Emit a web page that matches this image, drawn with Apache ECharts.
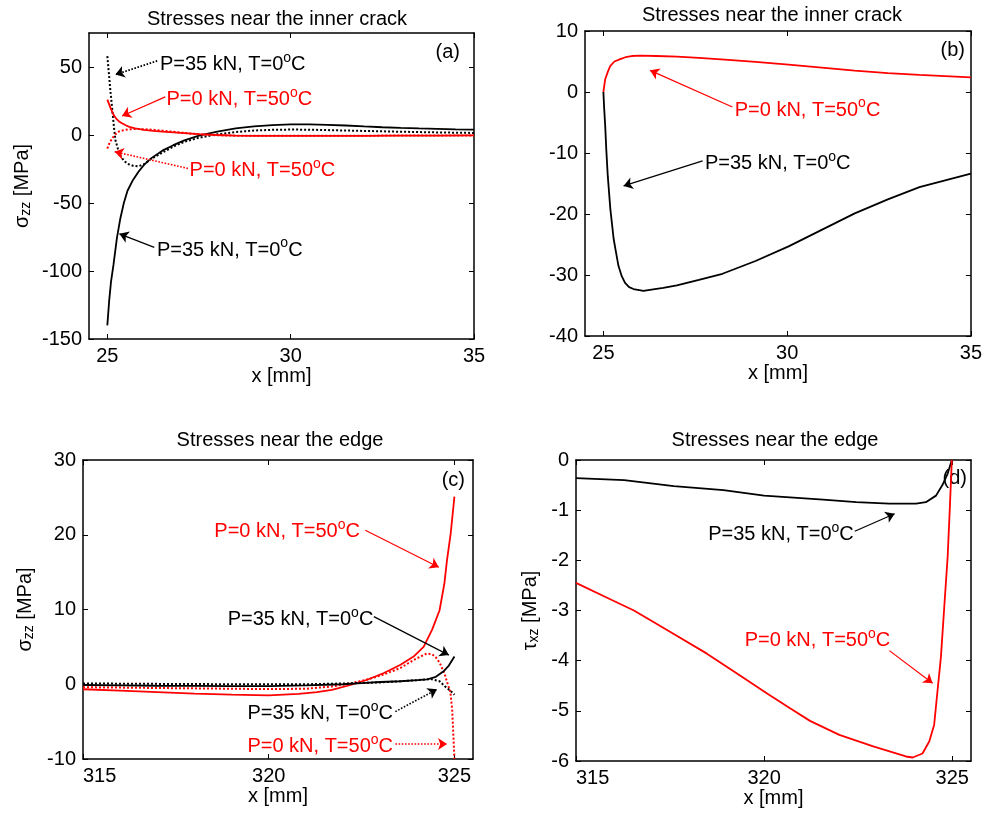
<!DOCTYPE html>
<html>
<head>
<meta charset="utf-8">
<script src="https://cdn.jsdelivr.net/npm/echarts@6/dist/echarts.min.js"></script>
<style>
  html, body { margin: 0; padding: 0; background: #fff; }
  #chart { width: 985px; height: 813px; }
</style>
</head>
<body>
<div id="chart"></div>
<script>
// ---- (a) sigma_zz near the inner crack, x in mm, stress in MPa ----
const crackLoadX = [25.0, 25.05, 25.1, 25.17, 25.26, 25.35, 25.45, 25.55, 25.7, 25.85, 26.0, 26.2, 26.5, 26.8, 27.1, 27.5, 28.0, 28.5, 29.0, 29.5, 30.0, 30.5, 31.0, 31.5, 32.0, 32.5, 33.0, 33.5, 34.0, 34.5, 35.0];
const crackLoadY = [-140, -122, -108, -95, -76, -62, -50, -41, -33, -27, -22, -17, -11.5, -7.5, -4, -0.5, 2.5, 4.8, 6.3, 7.3, 7.8, 7.8, 7.5, 7.0, 6.3, 5.7, 5.2, 4.8, 4.5, 4.2, 4.0];
const crackLoadDotX = [25.0, 25.04, 25.08, 25.13, 25.18, 25.22, 25.28, 25.35, 25.45, 25.58, 25.72, 25.85, 26.0, 26.2, 26.5, 26.8, 27.1, 27.5, 28.0, 28.5, 29.0, 29.5, 30.0, 30.5, 31.0, 32.0, 33.0, 34.0, 35.0];
const crackLoadDotY = [58, 46, 33.5, 20, 6, -3.7, -9.5, -14.8, -19, -21.5, -22.8, -23, -21.5, -17.5, -13, -8.5, -5, -2, 0.5, 2.2, 3.3, 3.8, 4.0, 3.9, 3.6, 3.0, 2.4, 1.9, 1.5];
const crackHeatX = [25.0, 25.05, 25.1, 25.17, 25.25, 25.32, 25.4, 25.5, 25.6, 25.76, 26.0, 26.25, 26.5, 27.0, 27.5, 28.0, 28.5, 29.0, 30.0, 31.0, 32.0, 33.0, 34.0, 35.0];
const crackHeatY = [26, 22.5, 19, 14.8, 11.8, 10, 8.6, 7.2, 6, 4.9, 3.7, 3.0, 2.5, 1.6, 0.6, 0, -0.4, -0.6, -0.7, -0.7, -0.6, -0.5, -0.4, -0.3];
const crackHeatDotX = [25.0, 25.05, 25.13, 25.22, 25.31, 25.45, 25.58, 25.8, 26.04, 26.3, 26.5, 27.0, 27.4, 28.0, 28.5, 29.0, 30.0, 31.0, 32.0, 33.0, 34.0, 35.0];
const crackHeatDotY = [-10, -6.5, -2.5, 0.5, 2.5, 3.6, 4.2, 4.4, 4.2, 3.7, 3.2, 1.8, 0.7, -0.2, -0.5, -0.6, -0.6, -0.5, -0.5, -0.4, -0.4, -0.3];

// ---- (b) second stress component near the inner crack ----
const crackBHeatX = [25.0, 25.05, 25.12, 25.19, 25.3, 25.46, 25.6, 25.77, 26.0, 26.44, 27.0, 27.6, 28.3, 29.14, 30.04, 30.94, 31.84, 32.74, 33.6, 34.3, 35.0];
const crackBHeatY = [0, 2.1, 3.3, 4.3, 5.0, 5.4, 5.7, 5.9, 5.95, 5.9, 5.8, 5.6, 5.3, 4.95, 4.5, 4.0, 3.5, 3.1, 2.8, 2.6, 2.4];
const crackBLoadX = [25.0, 25.02, 25.05, 25.08, 25.12, 25.19, 25.28, 25.35, 25.41, 25.5, 25.59, 25.7, 25.82, 26.09, 26.4, 26.63, 27.0, 27.6, 28.24, 29.14, 30.04, 30.94, 31.84, 32.74, 33.6, 34.3, 35.0];
const crackBLoadY = [0, -2.5, -5.6, -9.5, -13.8, -19.2, -24.1, -26.5, -28.5, -30.2, -31.3, -32.0, -32.3, -32.6, -32.3, -32.1, -31.7, -30.8, -29.8, -27.7, -25.3, -22.6, -19.9, -17.6, -15.6, -14.5, -13.4];

// ---- (c) sigma_zz near the edge ----
const edgeHeatX = [315.0, 316.0, 317.0, 318.0, 319.0, 320.0, 320.8, 321.3, 321.7, 322.2, 322.65, 323.1, 323.55, 323.9, 324.17, 324.4, 324.6, 324.73, 324.8, 324.9, 325.0];
const edgeHeatY = [-0.67, -0.85, -1.05, -1.25, -1.4, -1.5, -1.3, -1.05, -0.76, -0.1, 0.6, 1.5, 2.6, 3.7, 5.0, 7.3, 9.9, 13.5, 16.6, 20.2, 25.1];
const edgeHeatDotX = [315, 316, 317, 318, 319, 320, 321, 321.7, 322.2, 322.7, 323.1, 323.55, 324.0, 324.25, 324.4, 324.5, 324.6, 324.7, 324.75, 324.82, 324.89, 324.94, 325.0];
const edgeHeatDotY = [-0.4, -0.45, -0.5, -0.55, -0.6, -0.65, -0.6, -0.3, 0.1, 0.7, 1.3, 2.2, 3.5, 4.1, 4.0, 3.6, 2.9, 1.8, 1.15, 0, -1.0, -3.4, -10];
const edgeLoadX = [315, 316, 317, 318, 319, 320, 321, 322, 322.5, 323, 323.55, 324.0, 324.27, 324.5, 324.7, 324.85, 325.0];
const edgeLoadY = [-0.1, -0.15, -0.2, -0.22, -0.25, -0.25, -0.15, 0, 0.15, 0.3, 0.4, 0.55, 0.66, 1.0, 1.7, 2.5, 3.7];
const edgeLoadDotX = [315, 316, 317, 318, 319, 320, 321, 322, 323, 323.55, 324.0, 324.35, 324.6, 324.75, 324.9, 325.0];
const edgeLoadDotY = [0.1, 0.08, 0.05, 0.03, 0, 0, 0, 0.1, 0.25, 0.4, 0.55, 0.7, 0.4, -0.3, -0.9, -1.4];

// ---- (d) tau_xz near the edge ----
const shearLoadX = [315.0, 316.28, 317.6, 318.92, 320.0, 321.57, 322.45, 323.33, 324.04, 324.3, 324.57, 324.74, 324.88, 324.99];
const shearLoadY = [-0.36, -0.4, -0.52, -0.6, -0.71, -0.79, -0.84, -0.87, -0.87, -0.84, -0.71, -0.5, -0.27, 0.0];
const shearHeatX = [315.0, 315.84, 316.54, 317.51, 318.48, 319.37, 320.07, 320.69, 321.22, 322.0, 322.9, 323.77, 323.95, 324.21, 324.39, 324.52, 324.61, 324.7, 324.79, 324.88, 324.94, 324.99];
const shearHeatY = [-2.45, -2.75, -3.0, -3.43, -3.86, -4.3, -4.65, -4.95, -5.2, -5.48, -5.71, -5.91, -5.93, -5.85, -5.61, -5.28, -4.6, -3.93, -2.92, -1.92, -0.91, 0.0];

// ---- tick values ----
const crackTicksX = [25, 30, 35];
const edgeTicksX = [315, 320, 325];
const ticksA = [-150, -100, -50, 0, 50];
const ticksB = [-40, -30, -20, -10, 0, 10];
const ticksC = [-10, 0, 10, 20, 30];
const ticksD = [-6, -5, -4, -3, -2, -1, 0];

const LOAD = 'P=35 kN, T=0{sup|o}C';
const HEAT = 'P=0 kN, T=50{sup|o}C';

const FONT = 'Liberation Sans';
const FS = 20;
const RED = '#ff0000';
const BLACK = '#000000';

const zip = (xs, ys) => xs.map((x, i) => [x, ys[i]]);

const grids = [
  { left: 89, top: 33, width: 385, height: 306 },
  { left: 585, top: 31, width: 390, height: 305 },
  { left: 83, top: 460, width: 390, height: 299 },
  { left: 576, top: 460, width: 395, height: 301 }
];

const tickStyle = { inside: true, length: 5, lineStyle: { color: BLACK, width: 1 } };
const lineAxis = { onZero: false, lineStyle: { color: BLACK, width: 1.5 } };
const labelFont = { color: BLACK, fontSize: FS, fontFamily: FONT };

const xAxis = [];
const yAxis = [];

function addAxes(gi, xr, xt, yr, yt, yName, yGap, alignMin) {
  xAxis.push({
    type: 'value', gridIndex: gi, min: xr[0], max: xr[1], position: 'bottom',
    axisLine: lineAxis,
    axisTick: Object.assign({ customValues: xt }, tickStyle),
    axisLabel: Object.assign({ customValues: xt, margin: 7, alignMinLabel: alignMin }, labelFont),
    splitLine: { show: false },
    name: 'x [mm]', nameLocation: 'middle', nameGap: 27,
    nameTextStyle: { color: BLACK, fontSize: FS, fontFamily: FONT }
  });
  xAxis.push({
    type: 'value', gridIndex: gi, min: xr[0], max: xr[1], position: 'top',
    axisLine: lineAxis,
    axisTick: Object.assign({ customValues: xt }, tickStyle),
    axisLabel: { show: false }, splitLine: { show: false }
  });
  const left = {
    type: 'value', gridIndex: gi, min: yr[0], max: yr[1], position: 'left',
    axisLine: lineAxis,
    axisTick: Object.assign({ customValues: yt }, tickStyle),
    axisLabel: Object.assign({ customValues: yt, margin: 7 }, labelFont),
    splitLine: { show: false }
  };
  if (yName) {
    Object.assign(left, {
      name: yName, nameLocation: 'middle', nameGap: yGap, nameRotate: 90,
      nameTextStyle: {
        color: BLACK, fontSize: FS, fontFamily: FONT,
        rich: {
          g: { fontSize: FS, fontFamily: FONT, color: BLACK },
          s: { fontSize: 14, fontFamily: FONT, color: BLACK, verticalAlign: 'bottom', padding: [8, 0, 0, 0] }
        }
      }
    });
  }
  yAxis.push(left);
  yAxis.push({
    type: 'value', gridIndex: gi, min: yr[0], max: yr[1], position: 'right',
    axisLine: lineAxis,
    axisTick: Object.assign({ customValues: yt }, tickStyle),
    axisLabel: { show: false }, splitLine: { show: false }
  });
}

addAxes(0, [24.5, 35], crackTicksX, [-150, 75], ticksA, '{g|σ}{s|zz} [MPa]', 56, 'center');
addAxes(1, [24.5, 35], crackTicksX, [-40, 10], ticksB, null, 0, 'center');
addAxes(2, [315, 325.5], edgeTicksX, [-10, 30], ticksC, '{g|σ}{s|zz} [MPa]', 47, 'left');
addAxes(3, [315, 325.5], edgeTicksX, [-6, 0], ticksD, '{g|τ}{s|xz} [MPa]', 35, 'left');

// arrow from the text to the curve
function arrows(color, dotted, pairs) {
  return {
    silent: true, animation: false,
    symbol: ['none', 'arrow'], symbolSize: 9,
    lineStyle: { color: color, width: dotted ? 1.6 : 1.2, type: dotted ? 'dotted' : 'solid' },
    label: { show: false },
    emphasis: { disabled: true },
    data: pairs.map(p => [{ coord: [p[0], p[1]] }, { coord: [p[2], p[3]] }])
  };
}

// text annotation anchored at a data point
function note(color, text, x, y, side) {
  return {
    silent: true, animation: false,
    symbol: 'circle', symbolSize: 1,
    itemStyle: { color: 'rgba(0,0,0,0)' },
    label: {
      show: true, position: side, distance: 0, formatter: text,
      color: color, fontSize: FS, fontFamily: FONT, lineHeight: 27,
      rich: { sup: { fontSize: 14, fontFamily: FONT, color: color, verticalAlign: 'top', lineHeight: 27 } }
    },
    emphasis: { disabled: true },
    data: [{ coord: [x, y] }]
  };
}

function curve(gi, xs, ys, color, dotted, extra) {
  return Object.assign({
    type: 'line', xAxisIndex: 2 * gi, yAxisIndex: 2 * gi,
    data: zip(xs, ys), showSymbol: false, symbol: 'none',
    lineStyle: { color: color, width: dotted ? 2 : 1.8, type: dotted ? 'dotted' : 'solid' },
    itemStyle: { color: color }, animation: false, silent: true, clip: true
  }, extra || {});
}

const series = [
  // (a)
  curve(0, crackLoadX, crackLoadY, BLACK, false, {
    markLine: arrows(BLACK, false, [[26.28, -82.6, 25.33, -72.7]]),
    markPoint: note(BLACK, LOAD, 26.34, -84.6, 'right')
  }),
  curve(0, crackLoadDotX, crackLoadDotY, BLACK, true, {
    markLine: arrows(BLACK, true, [[26.36, 54.5, 25.22, 44.4]]),
    markPoint: note(BLACK, LOAD, 26.42, 52, 'right')
  }),
  curve(0, crackHeatDotX, crackHeatDotY, RED, true, {
    markLine: arrows(RED, true, [[27.2, -24.6, 25.2, -12.3]]),
    markPoint: note(RED, HEAT, 27.23, -26.3, 'right')
  }),
  curve(0, crackHeatX, crackHeatY, RED, false, {
    markLine: arrows(RED, false, [[26.58, 28, 25.4, 14]]),
    markPoint: note(RED, HEAT, 26.6, 26, 'right')
  }),
  // (b)
  curve(1, crackBHeatX, crackBHeatY, RED, false, {
    markLine: arrows(RED, false, [[28.51, -2.46, 26.27, 3.55]]),
    markPoint: note(RED, HEAT, 28.56, -2.95, 'right')
  }),
  curve(1, crackBLoadX, crackBLoadY, BLACK, false, {
    markLine: arrows(BLACK, false, [[27.7, -11.3, 25.55, -15.4]]),
    markPoint: note(BLACK, LOAD, 27.75, -11.7, 'right')
  }),
  // (c)
  curve(2, edgeHeatX, edgeHeatY, RED, false, {
    markLine: arrows(RED, false, [[322.6, 20.6, 324.58, 15.65]]),
    markPoint: note(RED, HEAT, 322.47, 20.4, 'left')
  }),
  curve(2, edgeHeatDotX, edgeHeatDotY, RED, true, {
    markLine: arrows(RED, true, [[323.41, -8.0, 324.8, -8.0]]),
    markPoint: note(RED, HEAT, 323.36, -8.35, 'left')
  }),
  curve(2, edgeLoadX, edgeLoadY, BLACK, false, {
    markLine: arrows(BLACK, false, [[322.83, 9.05, 324.85, 3.9]]),
    markPoint: note(BLACK, LOAD, 322.83, 8.6, 'left')
  }),
  curve(2, edgeLoadDotX, edgeLoadDotY, BLACK, true, {
    markLine: arrows(BLACK, true, [[323.41, -3.66, 324.53, -0.67]]),
    markPoint: note(BLACK, LOAD, 323.36, -3.97, 'left')
  }),
  // (d)
  curve(3, shearLoadX, shearLoadY, BLACK, false, {
    markLine: arrows(BLACK, false, [[322.41, -1.42, 323.47, -1.07]]),
    markPoint: note(BLACK, LOAD, 318.5, -1.48, 'right')
  }),
  curve(3, shearHeatX, shearHeatY, RED, false, {
    markLine: arrows(RED, false, [[323.33, -3.8, 324.48, -4.45]]),
    markPoint: note(RED, HEAT, 319.47, -3.6, 'right')
  })
];

function text(str, x, y, align) {
  return {
    type: 'text', x: x, y: y, silent: true,
    style: { text: str, fill: BLACK, font: FS + 'px "Liberation Sans"', textAlign: align, textVerticalAlign: 'middle' }
  };
}

const graphic = [
  text('Stresses near the inner crack', 277, 19, 'center'),
  text('Stresses near the inner crack', 772, 15, 'center'),
  text('Stresses near the edge', 280, 440, 'center'),
  text('Stresses near the edge', 775, 440, 'center'),
  text('(a)', 460, 52, 'right'),
  text('(b)', 965, 50, 'right'),
  text('(c)', 465, 480, 'right'),
  text('(d)', 967, 478, 'right')
];

const chart = echarts.init(document.getElementById('chart'), null, { renderer: 'canvas' });
chart.setOption({
  backgroundColor: '#ffffff',
  animation: false,
  grid: grids,
  xAxis: xAxis,
  yAxis: yAxis,
  series: series,
  graphic: graphic
});
</script>
</body>
</html>
